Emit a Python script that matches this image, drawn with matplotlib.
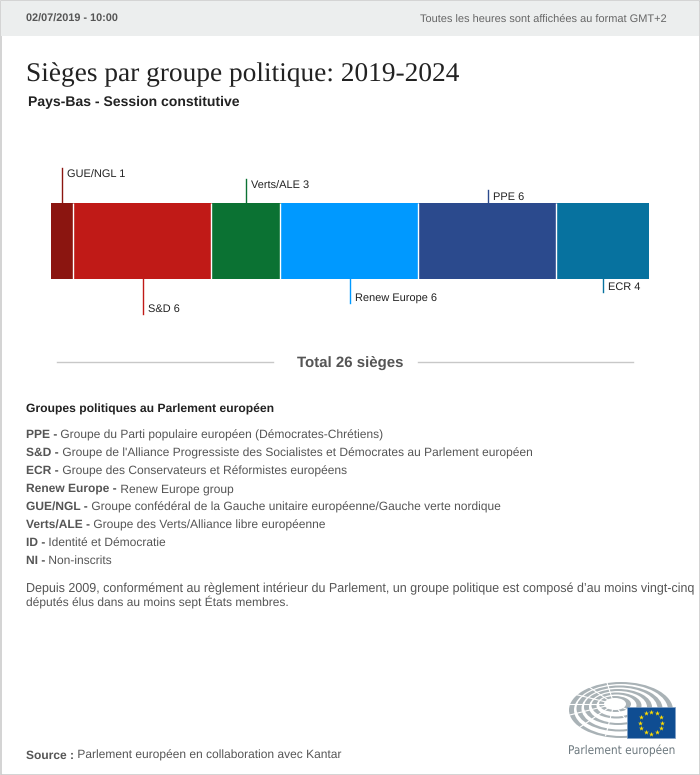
import matplotlib.pyplot as plt
from matplotlib.patches import Ellipse, Rectangle
import numpy as np

groups = ['GUE/NGL', 'S&D', 'Verts/ALE', 'Renew Europe', 'PPE', 'ECR']
seats = [1, 6, 3, 6, 6, 4]
colors = ['#8b1510', '#c01a17', '#0b7233', '#0099ff', '#2b4a8d', '#07729f']
leader_ends = [168, 314, 179, 303, 190, 292]

legend_names = ['PPE -', 'S&D -', 'ECR -', 'Renew Europe -', 'GUE/NGL -', 'Verts/ALE -', 'ID -', 'NI -']
legend_texts = ['Groupe du Parti populaire européen (Démocrates-Chrétiens)',
	"Groupe de l'Alliance Progressiste des Socialistes et Démocrates au Parlement européen",
	'Groupe des Conservateurs et Réformistes européens',
	'Renew Europe group',
	'Groupe confédéral de la Gauche unitaire européenne/Gauche verte nordique',
	'Groupe des Verts/Alliance libre européenne',
	'Identité et Démocratie',
	'Non-inscrits']

plt.rcParams['font.family'] = ['Liberation Sans', 'DejaVu Sans']
plt.rcParams['text.hinting'] = 'no_hinting' # widths follow the font size
plt.figure(figsize=(7, 7.75), dpi=100)

# page furniture, one unit is one pixel
plt.axes([0, 0, 1, 1])
plt.xlim(0, 700)
plt.ylim(775, 0)
plt.axis('off')
plt.gca().add_patch(Rectangle((0.5, 0.5), 699, 774, facecolor='white', edgecolor='#cccccc', linewidth=1.2))
plt.gca().add_patch(Rectangle((1, 1), 698, 35, facecolor='#eceeee', edgecolor='none'))

plt.text(26, 19, '02/07/2019 - 10:00', fontsize=7.85, fontweight='bold', color='#555555', va='center')
plt.text(667, 19, 'Toutes les heures sont affichées au format GMT+2', fontsize=7.95, color='#666666', va='center', ha='right')
plt.text(26, 81, 'Sièges par groupe politique: 2019-2024', fontsize=19.7, family='Liberation Serif', color='#222222')
plt.text(28, 106, 'Pays-Bas - Session constitutive', fontsize=10.1, fontweight='bold', color='#222222')

plt.plot([57, 273], [361.5, 361.5], color='#c8c8c8', linewidth=1)
plt.plot([418, 633], [361.5, 361.5], color='#c8c8c8', linewidth=1)
plt.text(350, 363, 'Total 26 sièges', fontsize=10.8, fontweight='bold', color='#555555', ha='center', va='center')

plt.text(26, 413, 'Groupes politiques au Parlement européen', fontsize=8.7, fontweight='bold', color='#222222')

y = 438
for name, text in zip(legend_names, legend_texts):
	t = plt.text(26, y, name, fontsize=8.65, fontweight='bold', color='#555555', va='baseline')
	plt.annotate(' ' + text, xy=(1, y + 0.25), xycoords=(t, 'data'), fontsize=8.65, color='#555555', va='baseline')
	y += 18

plt.text(26, 592, "Depuis 2009, conformément au règlement intérieur du Parlement, un groupe politique est composé d’au moins vingt-cinq", fontsize=9.04, color='#555555')
plt.text(26, 606, 'députés élus dans au moins sept États membres.', fontsize=8.65, color='#555555')

t = plt.text(26, 759, 'Source :', fontsize=8.65, fontweight='bold', color='#555555', va='baseline')
plt.annotate(' Parlement européen en collaboration avec Kantar', xy=(1, 759), xycoords=(t, 'data'), fontsize=8.65, color='#555555', va='baseline')

# logo
for i in range(5):
	center = (621 - 1.5 * i, 710 - 1.5 * i)
	rx = 52 - 9 * i
	ry = 28 - 5 * i
	plt.gca().add_patch(Ellipse(center, 2 * rx, 2 * ry, facecolor='#a9b2b6', edgecolor='none'))
	plt.gca().add_patch(Ellipse(center, 2 * rx - 10, 2 * ry - 4, facecolor='white', edgecolor='none'))
for angle in np.radians([100, 128, 155, 180, 205, 232, 262, 292, 322]):
	plt.plot([614, 614 + 60 * np.cos(angle)], [704, 704 - 32 * np.sin(angle)], color='white', linewidth=0.8)
plt.gca().add_patch(Ellipse((615, 704), 18, 9, facecolor='white', edgecolor='none'))
plt.gca().add_patch(Rectangle((627, 707), 48, 31, facecolor='#0f4d92', edgecolor='#7f9fc4', linewidth=0.5, zorder=3))
angles = np.arange(12) * np.pi / 6
plt.scatter(651 + 11 * np.cos(angles), 722.5 + 11 * np.sin(angles), marker='*', s=14, color='#ffdd00', linewidths=0, zorder=4)
plt.text(622, 751, 'Parlement européen', fontsize=8.5, family='DejaVu Sans', stretch='condensed', color='#6b777d', ha='center', va='center')

# the bar, x in seats and y in pixels
plt.axes([51 / 700, 1 - 279 / 775, 598 / 700, 76 / 775])
plt.xlim(0, sum(seats))
plt.ylim(279, 203)
plt.axis('off')

left = 0
for group, seat, color, end in zip(groups, seats, colors, leader_ends):
	plt.barh(241, seat, height=76, left=left, color=color)
	middle = left + seat / 2.0 - 0.02
	if end < 203:
		plt.plot([middle, middle], [203, end], color=color, linewidth=1, clip_on=False)
		offset = 6
	else:
		plt.plot([middle, middle], [279, end], color=color, linewidth=1, clip_on=False)
		offset = -6
	plt.annotate(group + ' ' + str(seat), xy=(middle, end), xytext=(5, -offset - 1), textcoords='offset pixels', fontsize=7.95, color='#222222', va='center', annotation_clip=False)
	left += seat
plt.vlines(np.cumsum(seats)[:-1] - 0.03, 203, 279, color='white', linewidth=1)

plt.savefig('out.png', dpi=100)
